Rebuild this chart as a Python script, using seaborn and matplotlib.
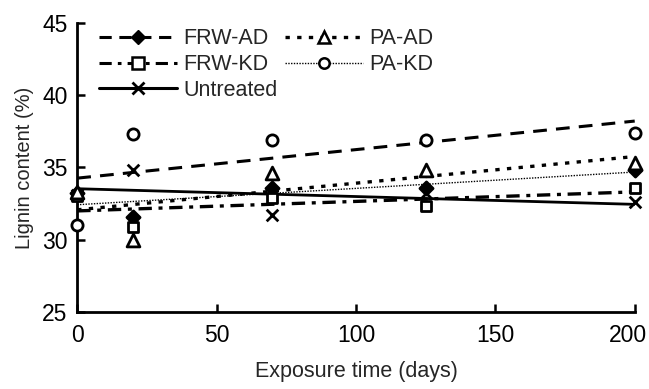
import matplotlib
matplotlib.use("Agg")
import matplotlib.pyplot as plt
from matplotlib.lines import Line2D
import matplotlib.transforms as mtransforms
import seaborn as sns
import numpy as np

# ---- data ----
days = [0, 20, 70, 125, 200]
frw_ad = [33.2, 31.6, 33.6, 33.6, 34.8]
frw_kd = [33.0, 30.9, 32.9, 32.3, 33.6]
pa_ad = [33.3, 30.0, 34.6, 34.8, 35.3]
pa_kd = [31.0, 37.3, 36.9, 36.9, 37.4]
untreated = [33.1, 34.8, 31.7, 33.2, 32.6]
series_names = ["FRW-AD", "FRW-KD", "Untreated", "PA-AD", "PA-KD"]
x_ticks = [0, 50, 100, 150, 200]
y_ticks = [25, 30, 35, 40, 45]

sns.set_style("ticks")
plt.rcParams["font.family"] = ["Liberation Sans", "DejaVu Sans"]

fig = plt.figure(figsize=(6.49, 3.89), dpi=100)
ax = fig.add_axes([0.119, 0.198, 0.859, 0.743])

series = {
    "FRW-AD": (frw_ad, "D", dict(s=45, facecolors="black", edgecolors="black"),
               dict(lw=1.0, ls=(0, (1, 1)))),
    "FRW-KD": (frw_kd, "s", dict(s=60, facecolors="white", edgecolors="black"),
               dict(lw=2.4, ls=(0, (4, 2, 1.2, 2)))),
    "Untreated": (untreated, "x", dict(s=70, color="black"),
                  dict(lw=2.0, ls="-")),
    "PA-AD": (pa_ad, "^", dict(s=85, facecolors="white", edgecolors="black"),
              dict(lw=2.4, ls=(0, (1.3, 2.2)))),
    "PA-KD": (pa_kd, "o", dict(s=65, facecolors="white", edgecolors="black"),
              dict(lw=2.2, ls=(0, (4.5, 3)))),
}

for name in series_names:
    vals, mk, skw, lkw = series[name]
    skw = dict(skw)
    skw.setdefault("color", "black")
    skw["linewidths"] = 2.0
    skw["alpha"] = 1
    skw["zorder"] = 3
    skw["clip_on"] = False
    sns.regplot(x=np.array(days), y=np.array(vals), ci=None, ax=ax, color="black",
                marker=mk, scatter_kws=skw,
                line_kws=dict(lkw, color="black", zorder=2))

ax.set_xlim(0, 200)
ax.set_ylim(25, 45)
ax.set_xticks(x_ticks)
ax.set_yticks(y_ticks)
ax.set_xlabel("Exposure time (days)", fontsize=15.5, labelpad=10)
ax.set_ylabel("Lignin content (%)", fontsize=14.5, labelpad=6)
ax.tick_params(direction="in", length=6, width=1.8, labelsize=16.5, pad=7, colors="black")
ax.tick_params(axis="x", pad=9)
for s in ["left", "bottom"]:
    ax.spines[s].set_linewidth(2)
    ax.spines[s].set_color("black")
for s in ["top", "right"]:
    ax.spines[s].set_visible(False)

# keep last x tick label inside the figure (as in reference)
last = ax.get_xticklabels()[-1]
last.set_horizontalalignment("right")
last.set_transform(last.get_transform() + mtransforms.ScaledTranslation(12 / 100, 0, fig.dpi_scale_trans))

handles = [
    Line2D([], [], color="black", lw=2.2, ls=(0, (4, 2.5)), marker="D", ms=7, mfc="black", mec="black"),
    Line2D([], [], color="black", lw=2.2, ls=(0, (4, 2, 1.2, 2)), marker="s", ms=8, mfc="white", mec="black", mew=1.8),
    Line2D([], [], color="black", lw=2.2, ls="-", marker="x", ms=8, mec="black", mew=2),
    Line2D([], [], color="black", lw=2.4, ls=(0, (1.3, 2.2)), marker="^", ms=8, mfc="white", mec="black", mew=1.8),
    Line2D([], [], color="black", lw=1.0, ls=(0, (1, 1)), marker="o", ms=7.5, mfc="white", mec="black", mew=1.8),
]
leg = ax.legend(handles, series_names, loc="upper left", bbox_to_anchor=(0.03, 1.0),
                ncol=2, frameon=False, fontsize=15.5, handlelength=3.6, handletextpad=0.3,
                columnspacing=0.35, labelspacing=0.22, borderaxespad=0, borderpad=0.25)

fig.savefig("out.png", dpi=100)
